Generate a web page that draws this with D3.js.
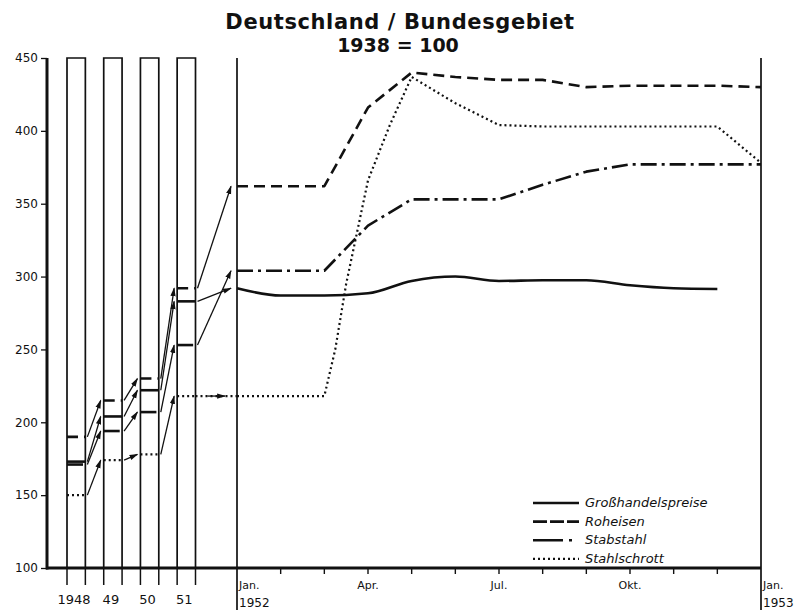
<!DOCTYPE html>
<html>
<head>
<meta charset="utf-8">
<script src="https://cdn.jsdelivr.net/npm/d3@7"></script>
<style>
  body { margin: 0; background: #fff; }
  svg { display: block; }
  text { font-family: "DejaVu Sans", sans-serif; fill: #111; }
</style>
</head>
<body>
<div id="chart"></div>
<script>
// yearly averages (left panel)
const years = ['1948', '49', '50', '51'];
const grossYear = [173, 204, 222, 283];
const roheisenYear = [190, 215, 230, 292];
const stabYear = [171, 194, 207, 253];
const schrottYear = [150, 174, 178, 218];

// monthly values 1952 (0 = Jan. 1952, 12 = Jan. 1953)
const grossMonths = [0, 1, 2, 3, 4, 5, 6, 7, 8, 9, 10, 11];
const grossVals = [292, 287, 287, 288.5, 297, 300, 297, 297.5, 297.5, 294, 292, 291.5];
const roheisenMonths = [0, 1, 2, 3, 4, 5, 6, 7, 8, 9, 10, 11, 12];
const roheisenVals = [362, 362, 362, 416, 440, 437, 435, 435, 430, 431, 431, 431, 430];
const stabMonths = [0, 1, 2, 3, 4, 5, 6, 7, 8, 9, 10, 11, 12];
const stabVals = [304, 304, 304, 335, 353, 353, 353, 363, 372, 377, 377, 377, 377];
const schrottMonths = [0, 1, 2, 2.25, 2.5, 3, 3.5, 4, 5, 6, 7, 8, 9, 10, 11, 12];
const schrottVals = [218, 218, 218, 250, 295, 366, 404, 437, 419, 404, 403, 403, 403, 403, 403, 378];

const yTicks = [100, 150, 200, 250, 300, 350, 400, 450];
const monthLabels = [[3, 'Apr.'], [6, 'Jul.'], [9, 'Okt.']];

const W = 801, H = 612;
const svg = d3.select('#chart').append('svg')
  .attr('width', W).attr('height', H);

const y = d3.scaleLinear().domain([100, 450]).range([568, 58]);
const xm = d3.scaleLinear().domain([0, 12]).range([237, 761]);
const xb = d3.scaleBand().domain(years).range([67, 195.5])
  .paddingInner(0.5).paddingOuter(0);

const styles = {
  gross: { dash: null, width: 2.6 },
  roheisen: { dash: '11,6', width: 2.6 },
  stab: { dash: '16,5,3,5', width: 2.6 },
  schrott: { dash: '2,3', width: 2.2 }
};

// arrow marker
svg.append('defs').append('marker')
  .attr('id', 'arr')
  .attr('viewBox', '0 -4 10 8')
  .attr('refX', 9).attr('refY', 0)
  .attr('markerUnits', 'userSpaceOnUse')
  .attr('markerWidth', 9).attr('markerHeight', 7)
  .attr('orient', 'auto')
  .append('path').attr('d', 'M0,-3L10,0L0,3Z').attr('fill', '#111');

// title
svg.append('text')
  .attr('x', 400).attr('y', 29)
  .attr('text-anchor', 'middle')
  .style('font-size', '21px').style('font-weight', 'bold')
  .style('letter-spacing', '0.6px')
  .text('Deutschland / Bundesgebiet');
svg.append('text')
  .attr('x', 398).attr('y', 52)
  .attr('text-anchor', 'middle')
  .style('font-size', '19px').style('font-weight', 'bold')
  .text('1938 = 100');

// year bars
years.forEach(yr => {
  const x0 = xb(yr), x1 = xb(yr) + xb.bandwidth();
  svg.append('path')
    .attr('d', `M${x0},${y(100)}V${y(450)}H${x1}V${y(100)}`)
    .attr('fill', 'none').attr('stroke', '#111').attr('stroke-width', 1.7);
  [x0, x1].forEach(x => {
    svg.append('line')
      .attr('x1', x).attr('x2', x)
      .attr('y1', y(100)).attr('y2', y(100) + 17)
      .attr('stroke', '#111').attr('stroke-width', 1.5);
  });
});

// Jan lines
[0, 12].forEach(m => {
  svg.append('line')
    .attr('x1', xm(m)).attr('x2', xm(m))
    .attr('y1', y(450)).attr('y2', 610)
    .attr('stroke', '#111').attr('stroke-width', 1.7);
});

// month ticks
d3.range(1, 12).forEach(m => {
  svg.append('line')
    .attr('x1', xm(m)).attr('x2', xm(m))
    .attr('y1', y(100)).attr('y2', y(100) + 6)
    .attr('stroke', '#111').attr('stroke-width', 1.4);
});

// y axis
const yAxis = svg.append('g')
  .attr('transform', 'translate(47,0)')
  .call(d3.axisLeft(y).tickValues(yTicks).tickSize(6).tickPadding(3));
yAxis.select('.domain').remove();
yAxis.selectAll('.tick line').attr('stroke', '#111').attr('stroke-width', 1.3);
yAxis.selectAll('.tick text')
  .style('font-size', '12px').style('font-family', '"DejaVu Sans", sans-serif')
  .attr('fill', '#111');

svg.append('line')
  .attr('x1', 47).attr('x2', 47).attr('y1', y(450)).attr('y2', y(100) + 1.5)
  .attr('stroke', '#111').attr('stroke-width', 3);
svg.append('line')
  .attr('x1', 46).attr('x2', xm(12)).attr('y1', y(100)).attr('y2', y(100))
  .attr('stroke', '#111').attr('stroke-width', 3);

// x labels
svg.append('text').attr('x', 74).attr('y', 604).attr('text-anchor', 'middle')
  .style('font-size', '13px').text('1948');
years.slice(1).forEach(yr => {
  svg.append('text')
    .attr('x', xb(yr) + xb.bandwidth() / 2 - 2).attr('y', 604)
    .attr('text-anchor', 'middle')
    .style('font-size', '13px').text(yr);
});
[[0, '1952'], [12, '1953']].forEach(([m, yr]) => {
  svg.append('text').attr('x', xm(m) + 2).attr('y', 589)
    .style('font-size', '11px').text('Jan.');
  svg.append('text').attr('x', xm(m) + 2).attr('y', 607)
    .style('font-size', '12px').text(yr);
});
monthLabels.forEach(([m, t]) => {
  svg.append('text').attr('x', xm(m)).attr('y', 589)
    .attr('text-anchor', 'middle')
    .style('font-size', '11px').text(t);
});

function styled(sel, key) {
  const s = styles[key];
  sel.attr('fill', 'none').attr('stroke', '#111')
    .attr('stroke-width', s.width);
  if (s.dash) sel.attr('stroke-dasharray', s.dash);
  return sel;
}

// yearly segments and arrows
const yearSeries = [
  ['roheisen', roheisenYear, roheisenVals[0]],
  ['gross', grossYear, grossVals[0]],
  ['stab', stabYear, stabVals[0]],
  ['schrott', schrottYear, schrottVals[0]]
];
yearSeries.forEach(([key, vals, jan]) => {
  vals.forEach((v, i) => {
    const x0 = xb(years[i]), x1 = x0 + xb.bandwidth();
    styled(svg.append('line'), key)
      .attr('x1', x0).attr('x2', x1)
      .attr('y1', y(v)).attr('y2', y(v));
    const nextX = i < vals.length - 1 ? xb(years[i + 1]) - 3 : xm(0) - 6;
    const nextV = i < vals.length - 1 ? vals[i + 1] : jan;
    if (nextV === v) {
      styled(svg.append('line'), key)
        .attr('x1', x1).attr('x2', xm(0))
        .attr('y1', y(v)).attr('y2', y(v));
      svg.append('line')
        .attr('x1', x1 + 12).attr('x2', nextX - 6)
        .attr('y1', y(v)).attr('y2', y(v))
        .attr('stroke', '#111').attr('stroke-width', 1.3)
        .attr('marker-end', 'url(#arr)');
    } else {
      svg.append('line')
        .attr('x1', x1 + 2).attr('x2', nextX)
        .attr('y1', y(v)).attr('y2', y(nextV))
        .attr('stroke', '#111').attr('stroke-width', 1.3)
        .attr('marker-end', 'url(#arr)');
    }
  });
});

// monthly lines
const monthly = [
  ['gross', grossMonths, grossVals, d3.curveMonotoneX],
  ['roheisen', roheisenMonths, roheisenVals, d3.curveLinear],
  ['stab', stabMonths, stabVals, d3.curveLinear],
  ['schrott', schrottMonths, schrottVals, d3.curveLinear]
];
monthly.forEach(([key, ms, vals, curve]) => {
  const line = d3.line()
    .x(d => xm(d[0])).y(d => y(d[1]))
    .curve(curve);
  styled(svg.append('path'), key)
    .attr('stroke-linejoin', 'round')
    .attr('d', line(ms.map((m, i) => [m, vals[i]])));
});

// legend
const legend = [
  ['gross', 'Großhandelspreise'],
  ['roheisen', 'Roheisen'],
  ['stab', 'Stabstahl'],
  ['schrott', 'Stahlschrott']
];
legend.forEach(([key, label], i) => {
  const by = 507 + i * 18.6;
  const l = styled(svg.append('line'), key)
    .attr('x1', 533).attr('x2', 579)
    .attr('y1', by - 4).attr('y2', by - 4);
  if (key === 'stab') l.attr('stroke-dasharray', '30,6,3,20');
  if (key === 'roheisen') l.attr('stroke-dasharray', '14,3');
  svg.append('text')
    .attr('x', 585).attr('y', by)
    .style('font-size', '13px').style('font-style', 'italic')
    .text(label);
});
</script>
</body>
</html>
